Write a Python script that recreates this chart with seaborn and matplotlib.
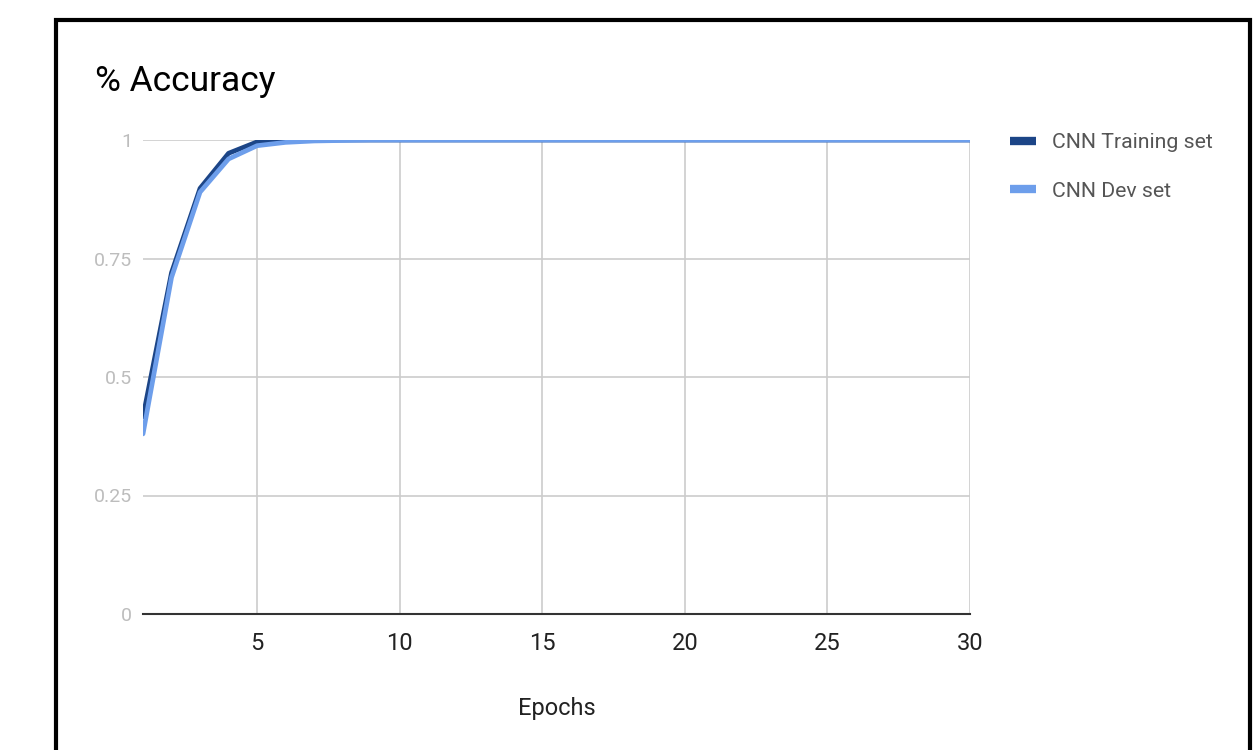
import pandas as pd
import numpy as np
import matplotlib
matplotlib.use('Agg')
import matplotlib.pyplot as plt
from matplotlib.patches import Rectangle
from matplotlib.lines import Line2D
import seaborn as sns

# values
epochs = list(range(1, 31))
train_acc = [0.416, 0.72, 0.898, 0.972, 0.996, 1.0, 1.0, 1.0, 1.0, 1.0,
             1.0, 1.0, 1.0, 1.0, 1.0, 1.0, 1.0, 1.0, 1.0, 1.0,
             1.0, 1.0, 1.0, 1.0, 1.0, 1.0, 1.0, 1.0, 1.0, 1.0]
dev_acc = [0.38, 0.71, 0.89, 0.96, 0.988, 0.995, 0.998, 0.999, 1.0, 1.0,
           1.0, 1.0, 1.0, 1.0, 1.0, 1.0, 1.0, 1.0, 1.0, 1.0,
           1.0, 1.0, 1.0, 1.0, 1.0, 1.0, 1.0, 1.0, 1.0, 1.0]
series_names = ['CNN Training set', 'CNN Dev set']
colors = ['#1c4587', '#6d9eeb']
y_ticks = [0, 0.25, 0.5, 0.75, 1]
y_tick_labels = ['0', '0.25', '0.5', '0.75', '1']
x_ticks = [5, 10, 15, 20, 25, 30]

df = pd.DataFrame({
    'epoch': epochs * 2,
    'acc': train_acc + dev_acc,
    'set': [series_names[0]] * len(epochs) + [series_names[1]] * len(epochs),
})

sns.set_style('white')
plt.rcParams['font.family'] = ['Roboto', 'DejaVu Sans']

fig = plt.figure(figsize=(12.56, 7.5), dpi=100)
ax = fig.add_axes([143 / 1256, 1 - 614 / 750, (970 - 143) / 1256, (614 - 140) / 750])

sns.lineplot(data=df, x='epoch', y='acc', hue='set', palette=colors,
             linewidth=3.4, ax=ax, legend=False)

ax.set_xlim(1, 30)
ax.set_ylim(0, 1)
ax.set_xticks(x_ticks)
ax.set_xticklabels([str(t) for t in x_ticks], fontsize=17, color='#222222')
ax.set_yticks(y_ticks)
ax.set_yticklabels(y_tick_labels, fontsize=14, color='#bdbdbd')
ax.tick_params(axis='x', length=0, pad=13)
ax.tick_params(axis='y', length=0, pad=8)
ax.grid(True, color='#cccccc', linewidth=1.2)
ax.set_axisbelow(True)
for s in ['top', 'right', 'left']:
    ax.spines[s].set_visible(False)
ax.spines['bottom'].set_color('#333333')
ax.spines['bottom'].set_linewidth(1.5)
ax.spines['bottom'].set_zorder(5)
ax.set_xlabel('Epochs', fontsize=17, color='#222222', labelpad=30)
ax.set_ylabel('')

fig.text(95 / 1256, 1 - 81 / 750, '% Accuracy', fontsize=25.5, color='#000000',
         va='center', ha='left')

handles = [Line2D([0], [0], color=c, linewidth=6, solid_capstyle='butt') for c in colors]
fig.legend(handles, series_names, loc='upper left',
           bbox_to_anchor=(991 / 1256, 1 - 114 / 750), frameon=False,
           fontsize=15.3, handlelength=1.2, handletextpad=0.78,
           labelspacing=1.4, labelcolor='#555555')

# black frame around the chart
fig.patches.append(Rectangle((56 / 1256, -0.05), (1249.5 - 56) / 1256, 1.05 - 19.5 / 750,
                             transform=fig.transFigure, fill=False,
                             edgecolor='black', linewidth=3))

fig.savefig('out.png', dpi=100)
